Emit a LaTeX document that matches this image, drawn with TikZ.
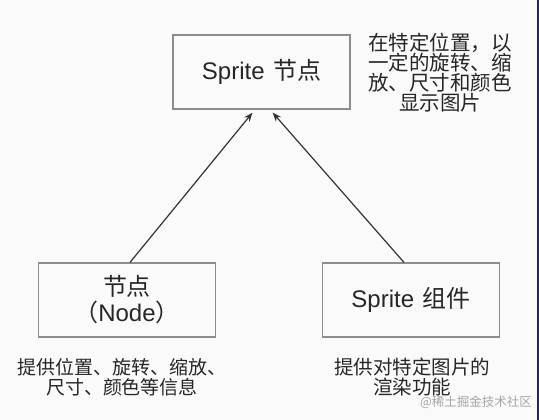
\documentclass[tikz,border=0pt]{standalone}
\usepackage{fontspec}
\setmainfont{Noto Sans CJK SC}
\newfontfamily\latinfont{Liberation Sans}
\usetikzlibrary{arrows.meta}
\definecolor{boxgray}{HTML}{8C8C8C}
\definecolor{pagebg}{HTML}{FAFAFA}
\definecolor{edgeblue}{HTML}{2A2470}
\newcommand{\spritename}{{\latinfont Sprite}\hspace{0.35em}}

\begin{document}
\begin{tikzpicture}[
  x=1pt, y=-1pt,
  block/.style={draw=boxgray, line width=1.2pt, minimum width=177pt, minimum height=74pt,
                inner sep=0pt, align=center, font=\fontsize{24}{26}\selectfont, text=black!85},
  note/.style={align=center, font=\fontsize{19.5}{20}\selectfont, text=black!85},
  arrow/.style={-{Stealth[length=9pt,width=7pt]}, line width=1.2pt, draw=black!80}
]
\fill[pagebg] (0,0) rectangle (539,420);
\fill[edgeblue] (537,0) rectangle (539,420);
\useasboundingbox (0,0) rectangle (539,420);

\node[block] (sprite) at (261.5,72) {\spritename 节点};
\node[block] (node) at (127,300) {节点\\（{\latinfont Node}）};
\node[block] (comp) at (411,300) {\spritename 组件};

\node[note, font=\fontsize{20.5}{20}\selectfont] (spritenote) at (440,73) {在特定位置，以\\一定的旋转、缩\\放、尺寸和颜色\\显示图片};
\node[note, font=\fontsize{19}{20}\selectfont] (nodenote) at (122,377) {提供位置、旋转、缩放、\\尺寸、颜色等信息};
\node[note] (compnote) at (412,377) {提供对特定图片的\\渲染功能};
\node[font=\fontsize{12.5}{14}\selectfont, text=black!35] (mark) at (476,402) {@稀土掘金技术社区};

\draw[arrow, shorten >=4pt] ([xshift=3pt]node.north) -- ([xshift=-6.5pt]sprite.south);
\draw[arrow, shorten >=4pt] ([xshift=-7pt]comp.north) -- ([xshift=8.5pt]sprite.south);
\end{tikzpicture}
\end{document}
